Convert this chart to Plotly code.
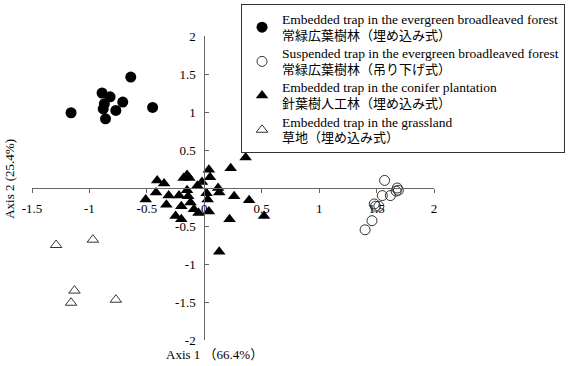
import plotly.graph_objects as go

# Embedded trap, evergreen broadleaved forest (filled circles)
ebf_x = [-1.16, -0.64, -0.89, -0.82, -0.71, -0.87, -0.88, -0.77, -0.86, -0.45]
ebf_y = [0.99, 1.46, 1.25, 1.20, 1.13, 1.11, 1.04, 1.02, 0.91, 1.06]

# Suspended trap, evergreen broadleaved forest (open circles)
sbf_x = [1.57, 1.68, 1.69, 1.67, 1.62, 1.55, 1.48, 1.49, 1.52, 1.46, 1.40]
sbf_y = [0.10, 0.00, -0.03, -0.04, -0.10, -0.10, -0.21, -0.24, -0.24, -0.43, -0.55]

# Embedded trap, conifer plantation (filled triangles)
con_x = [0.36, 0.23, 0.04, 0.05, -0.15, -0.18, -0.13, -0.41, -0.35, -0.02, -0.06,
         0.12, 0.13, 0.02, 0.03, -0.42, -0.31, -0.22, -0.15, -0.14, -0.51, -0.33,
         -0.20, -0.12, -0.09, -0.05, 0.04, -0.25, -0.20, 0.26, 0.39, 0.52, 0.22, 0.13]
con_y = [0.40, 0.26, 0.24, 0.14, 0.17, 0.13, 0.13, 0.10, 0.06, 0.08, 0.03,
         0.00, -0.06, -0.07, -0.15, -0.06, -0.10, -0.10, -0.03, -0.11, -0.15, -0.22,
         -0.24, -0.19, -0.28, -0.33, -0.31, -0.37, -0.41, -0.11, -0.16, -0.37, -0.41, -0.84]

# Embedded trap, grassland (open triangles)
gra_x = [-1.29, -0.97, -1.13, -1.16, -0.77]
gra_y = [-0.75, -0.68, -1.35, -1.51, -1.47]

names_en = [
    "Embedded trap in the evergreen broadleaved forest",
    "Suspended trap in the evergreen broadleaved forest",
    "Embedded trap in the conifer plantation",
    "Embedded trap in the grassland",
]
names_ja = [
    "常緑広葉樹林（埋め込み式）",
    "常緑広葉樹林（吊り下げ式）",
    "針葉樹人工林（埋め込み式）",
    "草地（埋め込み式）",
]
names = [f'<span style="font-size:13.5px">{e}</span><br>'
         f'<span style="font-size:13px">{j}</span>'
         for e, j in zip(names_en, names_ja)]

x_ticks = [-1.5, -1, -0.5, 0, 0.5, 1, 1.5, 2]
x_ticktext = ["-1.5", "-1", "-0.5", "0", "0.5", "1", "1.5", "2"]
y_ticks = [-2, -1.5, -1, -0.5, 0.5, 1, 1.5, 2]
y_ticktext = ["-2", "-1.5", "-1", "-0.5", "0.5", "1", "1.5", "2"]

FONT = "Liberation Serif, Times New Roman, Noto Sans CJK JP, serif"

fig = go.Figure()
fig.add_trace(go.Scatter(x=ebf_x, y=ebf_y, mode="markers", name=names[0],
                         marker=dict(symbol="circle", size=11, color="black")))
fig.add_trace(go.Scatter(x=sbf_x, y=sbf_y, mode="markers", name=names[1],
                         marker=dict(symbol="circle-open", size=10, color="#333",
                                     line=dict(width=1))))
fig.add_trace(go.Scatter(x=con_x, y=con_y, mode="markers", name=names[2],
                         marker=dict(symbol="triangle-up", size=11, color="black")))
fig.add_trace(go.Scatter(x=gra_x, y=gra_y, mode="markers", name=names[3],
                         marker=dict(symbol="triangle-up-open", size=10, color="#333",
                                     line=dict(width=1))))

fig.update_layout(
    width=571, height=366,
    margin=dict(l=32, r=137, t=36, b=26, autoexpand=False),
    paper_bgcolor="white", plot_bgcolor="white",
    font=dict(family=FONT, size=13, color="black"),
    showlegend=True,
    legend=dict(x=0.52, y=1.105, xanchor="left", yanchor="top",
                bordercolor="#333", borderwidth=1, bgcolor="white",
                font=dict(family=FONT, size=12, color="black"),
                tracegroupgap=0),
    xaxis=dict(range=[-1.5, 2], anchor="free", position=0.5,
               showgrid=False, zeroline=False, showline=True,
               linecolor="#666", linewidth=1,
               ticks="outside", ticklen=4, tickcolor="#666",
               tickvals=x_ticks, ticktext=x_ticktext, ticklabelstandoff=4),
    yaxis=dict(range=[-2, 2], anchor="free", position=1.5 / 3.5,
               showgrid=False, zeroline=False, showline=True,
               linecolor="#666", linewidth=1,
               ticks="inside", ticklen=4, tickcolor="#666",
               tickvals=y_ticks, ticktext=y_ticktext, ticklabelstandoff=6),
    annotations=[
        dict(text="Axis 2 (25.4%)", xref="paper", yref="paper", x=-0.055, y=0.53,
             xanchor="center", yanchor="middle",
             textangle=-90, showarrow=False, font=dict(family=FONT, size=13)),
        dict(text="Axis 1 （66.4%）", xref="paper", yref="paper", x=0.455, y=-0.08,
             xanchor="center", yanchor="bottom",
             showarrow=False, font=dict(family=FONT, size=13)),
    ],
)

fig.write_html("out.html")
